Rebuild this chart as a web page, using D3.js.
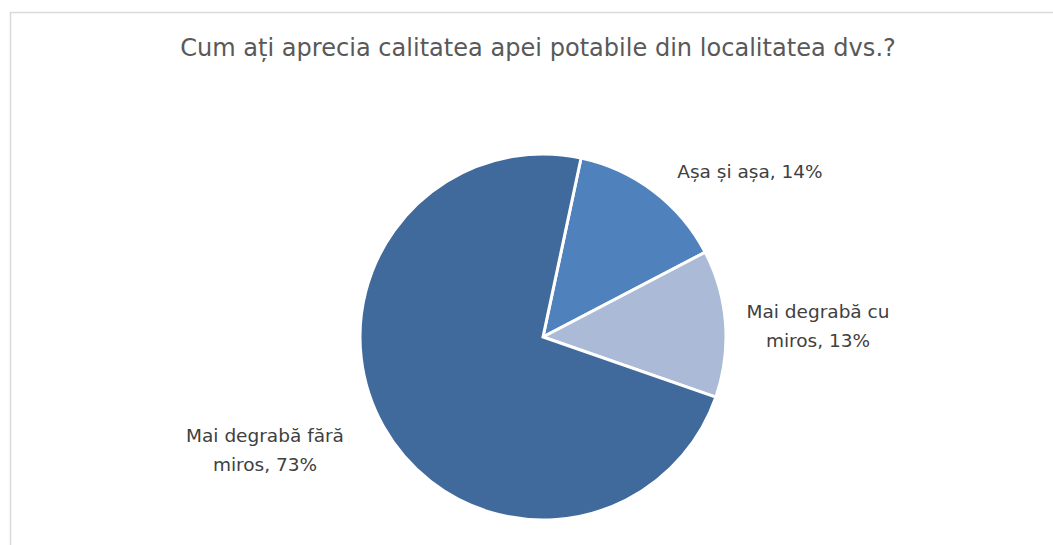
<!DOCTYPE html>
<html><head><meta charset="utf-8">
<script src="https://cdn.jsdelivr.net/npm/d3@7"></script>
<style>
html,body{margin:0;padding:0;background:#fff;}
svg{display:block;}
text{font-family:"DejaVu Sans",Verdana,sans-serif;}
</style></head>
<body>
<svg id="c" width="1053" height="545"></svg>
<script>
const title = "Cum ați aprecia calitatea apei potabile din localitatea dvs.?";
const categories = ["Așa și așa", "Mai degrabă cu miros", "Mai degrabă fără miros"];
const values = [14, 13, 73];
const labelLines = [["Așa și așa, 14%"], ["Mai degrabă cu", "miros, 13%"], ["Mai degrabă fără", "miros, 73%"]];
const colors = ["#4F81BD", "#AABAD7", "#406A9C"];

const svg = d3.select("#c");
svg.append("path").attr("d","M10.5,545 L10.5,12.5 L1053,12.5")
  .attr("fill","none").attr("stroke","#D9D9D9").attr("stroke-width",1.5);

const tt = svg.append("text").attr("x",538).attr("y",56).attr("text-anchor","middle")
  .attr("fill","#595959").style("font-size","20px").text(title);
{
  const w = tt.node().getComputedTextLength();
  tt.style("font-size", (20 * 716 / w).toFixed(2) + "px");
}

const cx = 543, cy = 337, r = 183;
const start = 12 * Math.PI / 180;
const pie = d3.pie().sort(null).value(d => d).startAngle(start).endAngle(start + 2 * Math.PI);
const arcs = pie(values);
const arc = d3.arc().innerRadius(0).outerRadius(r);
const g = svg.append("g").attr("transform", `translate(${cx},${cy})`);
g.selectAll("path").data(arcs).enter().append("path")
  .attr("d", arc).attr("fill", (d,i) => colors[i])
  .attr("stroke", "#fff").attr("stroke-width", 3).attr("stroke-linejoin","miter");

const labelPos = [[207, -159], [275, -19], [-278, 105]];
const lh = 29;
arcs.forEach((d, i) => {
  const t = g.append("text").attr("text-anchor", "middle").attr("fill", "#404040")
    .style("font-size", "18.5px");
  labelLines[i].forEach((ln, j) => {
    t.append("tspan").attr("x", labelPos[i][0]).attr("y", labelPos[i][1] + j * lh).text(ln);
  });
});
</script>
</body></html>
